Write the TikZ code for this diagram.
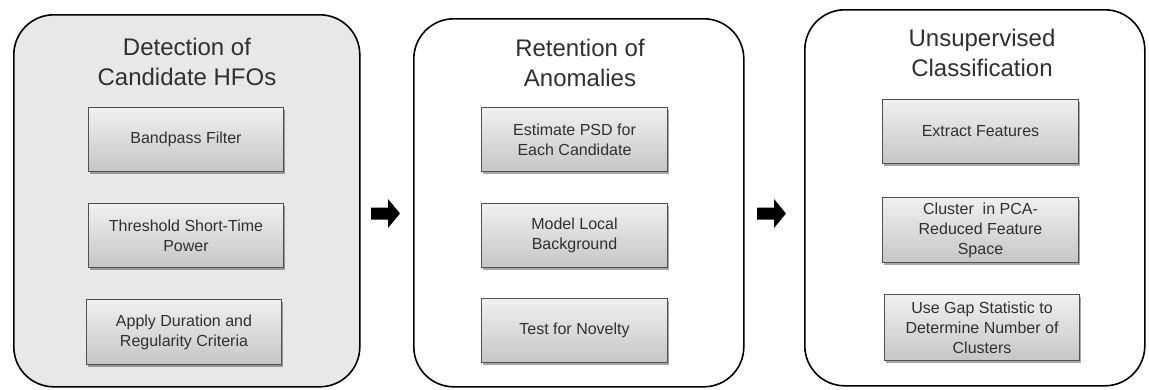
\documentclass[tikz,border=0pt]{standalone}
\usepackage{fontspec}
\setmainfont{Liberation Sans}
\usetikzlibrary{shadows}
\definecolor{panelgray}{HTML}{E8E8E8}
\definecolor{txt}{HTML}{303030}
\definecolor{boxtop}{HTML}{F0F0F0}
\definecolor{boxbot}{HTML}{C6C6C6}
\definecolor{boxline}{HTML}{505050}
\begin{document}
\begin{tikzpicture}[x=1pt,y=-1pt,
  panel/.style={draw=black, line width=1.6pt, rounded corners=40pt, anchor=north west, inner sep=0pt},
  paneltitle/.style={text=txt, font=\fontsize{24}{30}\selectfont, align=center, inner sep=0pt},
  stepbox/.style={draw=boxline, line width=1pt, top color=boxtop, bottom color=boxbot,
     drop shadow={shadow xshift=1.5pt, shadow yshift=-2pt, opacity=0.35, fill=black},
     anchor=north west, inner sep=0pt, text=txt, align=center,
     font=\fontsize{16}{20}\selectfont},
  fatarrow/.style={fill=black, draw=none}
]
\useasboundingbox[fill=white] (0,0) rectangle (1149,389);

% panels
\node[panel, fill=panelgray, minimum width=346pt, minimum height=372pt] (p1) at (13,14) {};
\node[panel, fill=white, minimum width=330pt, minimum height=368pt] (p2) at (413,18) {};
\node[panel, fill=white, minimum width=340pt, minimum height=376pt] (p3) at (804,9) {};

% titles
\node[paneltitle] (t1) at (187,62) {Detection of\\Candidate HFOs};
\node[paneltitle] (t2) at (580,63) {Retention of\\Anomalies};
\node[paneltitle] (t3) at (982,53) {Unsupervised\\Classification};

% panel 1 boxes
\node[stepbox, minimum width=195pt, minimum height=64pt] (a1) at (88,107) {Bandpass Filter};
\node[stepbox, minimum width=195pt, minimum height=64pt] (a2) at (88,203) {Threshold Short-Time\\Power};
\node[stepbox, minimum width=195pt, minimum height=65pt] (a3) at (86,299) {Apply Duration and\\Regularity Criteria};

% panel 2 boxes
\node[stepbox, minimum width=186pt, minimum height=64pt] (b1) at (481,107) {Estimate PSD for\\Each Candidate};
\node[stepbox, minimum width=186pt, minimum height=64pt] (b2) at (481,203) {Model Local\\Background};
\node[stepbox, minimum width=186pt, minimum height=64pt] (b3) at (481,298) {Test for Novelty};

% panel 3 boxes
\node[stepbox, minimum width=196pt, minimum height=64pt] (c1) at (882,99) {Extract Features};
\node[stepbox, minimum width=196pt, minimum height=65pt] (c2) at (882,197) {Cluster\ \ in PCA-\\Reduced Feature\\Space};
\node[stepbox, minimum width=195pt, minimum height=66pt] (c3) at (884,294) {Use Gap Statistic to\\Determine Number of\\Clusters};

% arrows between panels
\coordinate (m1) at (371,213.5);
\coordinate (m2) at (757,213.5);
\foreach \m in {m1,m2}{
  \fill[fatarrow] (\m) ++(0,-6) -- ++(17,0) -- ++(0,-8.5) -- ++(12,14.5) -- ++(-12,14.5) -- ++(0,-8.5) -- ++(-17,0) -- cycle;
}
\end{tikzpicture}
\end{document}
